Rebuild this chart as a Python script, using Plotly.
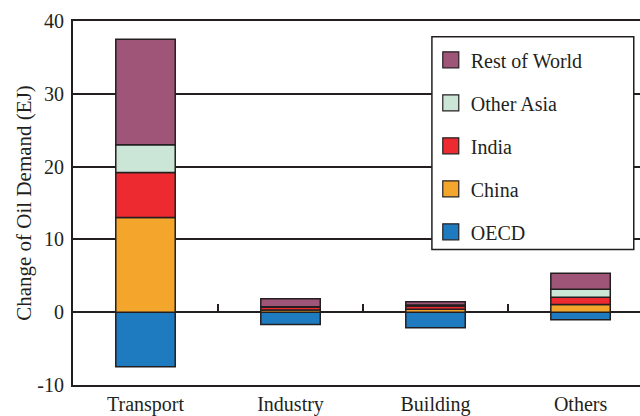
import plotly.graph_objects as go

# Change of oil demand by sector (EJ)
sectors = ["Transport", "Industry", "Building", "Others"]
oecd = [-7.5, -1.7, -2.15, -1.05]
china = [13.0, 0.3, 0.4, 1.05]
india = [6.2, 0.4, 0.45, 1.0]
other_asia = [3.8, 0.05, 0.15, 1.1]
rest_of_world = [14.5, 1.1, 0.45, 2.2]

y_ticks = [-10, 0, 10, 20, 30, 40]
y_tick_labels = ["-10", "0", "10", "20", "30", "40"]

INK = "#231f20"
FONT = "Liberation Serif, Times New Roman, serif"

series = [
    ("OECD", oecd, "#1f7bc0"),
    ("China", china, "#f4a62c"),
    ("India", india, "#ed2a2f"),
    ("Other Asia", other_asia, "#cbe6d6"),
    ("Rest of World", rest_of_world, "#9e5577"),
]

fig = go.Figure()
for rank, (name, values, color) in enumerate(series):
    fig.add_trace(
        go.Bar(
            x=sectors,
            y=values,
            name=name,
            legendgroup=name,
            showlegend=False,
            marker=dict(color=color, line=dict(color=INK, width=1.5)),
            width=0.41,
        )
    )
    # legend swatch: bigger square than the default bar icon
    fig.add_trace(
        go.Scatter(
            x=[None],
            y=[None],
            mode="markers",
            name=name,
            legendgroup=name,
            legendrank=len(series) - rank,
            marker=dict(symbol="square", size=18, color=color,
                        line=dict(color=INK, width=1.2)),
            hoverinfo="skip",
        )
    )

# carries the small separator ticks sitting on the zero line
fig.add_trace(
    go.Bar(x=sectors, y=[None] * len(sectors), xaxis="x2",
           showlegend=False, hoverinfo="skip")
)

# legend frame (wider than plotly's own legend box)
fig.add_shape(
    type="rect", xref="paper", yref="paper",
    x0=0.633, x1=0.989, y0=0.372, y1=0.957,
    fillcolor="#fff", line=dict(color=INK, width=1.5), layer="above",
)

x_range = [-0.5, 3.41]  # the original plot runs on past the right edge

fig.update_layout(
    width=640,
    height=416,
    barmode="relative",
    plot_bgcolor="#fff",
    paper_bgcolor="#fff",
    font=dict(family=FONT, size=20, color=INK),
    margin=dict(l=73, r=0, t=21, b=27),
    xaxis=dict(
        range=x_range,
        showline=True,
        linecolor=INK,
        linewidth=2,
        mirror=True,
        ticks="",
        showgrid=False,
        tickfont=dict(size=20),
    ),
    xaxis2=dict(
        overlaying="x",
        anchor="free",
        position=0.2,
        range=x_range,
        tickvals=[0.5, 1.5, 2.5],
        ticks="inside",
        ticklen=8,
        tickwidth=2,
        tickcolor=INK,
        showticklabels=False,
        showline=False,
        showgrid=False,
        zeroline=False,
    ),
    yaxis=dict(
        range=[-10, 40],
        tickvals=y_ticks,
        ticktext=y_tick_labels,
        showline=True,
        linecolor=INK,
        linewidth=2,
        showgrid=True,
        gridcolor=INK,
        gridwidth=2,
        zeroline=True,
        zerolinecolor=INK,
        zerolinewidth=2,
        ticks="",
        ticklabelstandoff=3,
        tickfont=dict(size=20),
        title=dict(text="Change of Oil Demand (EJ)", font=dict(size=21), standoff=0),
    ),
    legend=dict(
        x=0.631,
        y=0.947,
        xanchor="left",
        yanchor="top",
        traceorder="grouped",
        tracegroupgap=14,
        itemsizing="trace",
        bgcolor="rgba(0,0,0,0)",
        borderwidth=0,
        font=dict(size=20),
    ),
)

fig.write_html(
    "out.html",
    config={"displayModeBar": False},
    post_script="document.body.style.margin='0';",
)
